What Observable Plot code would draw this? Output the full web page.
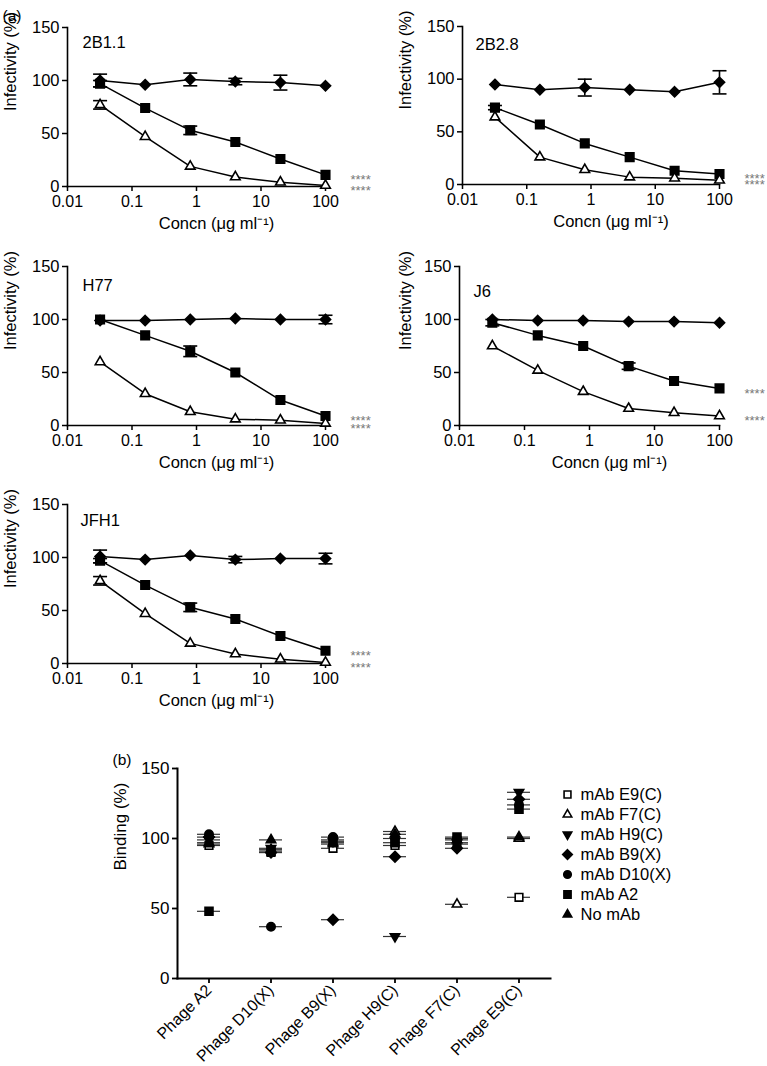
<!DOCTYPE html>
<html><head><meta charset="utf-8">
<script src="https://cdn.jsdelivr.net/npm/d3@7"></script>
<script src="https://cdn.jsdelivr.net/npm/@observablehq/plot@0.6"></script>
<style>
body{margin:0;background:#fff;}
#fig{position:relative;width:767px;height:1066px;background:#fff;font-family:"Liberation Sans",Arial,Helvetica,sans-serif;overflow:hidden;color:#000;}
#fig svg{position:absolute;background:transparent;overflow:visible;}
</style></head><body>
<div id="fig"></div>
<script>
// ---------- DATA: panel (a) ----------
const conc = [0.032, 0.16, 0.8, 4, 20, 100];
const xTickValues = [0.01, 0.1, 1, 10, 100];
const yTickValuesA = [0, 50, 100, 150];
const strains = ["2B1.1", "2B2.8", "H77", "J6", "JFH1"];
const asteriskText = "****";

const ctrl_2B11 = [100, 96, 101, 99, 98, 95];
const ctrlErr_2B11 = [6, 0, 6, 3, 7, 0];
const sq_2B11 = [97, 74, 53, 42, 26, 11];
const sqErr_2B11 = [3, 0, 4, 0, 0, 0];
const tri_2B11 = [77, 47, 19, 9, 4, 1];
const triErr_2B11 = [4, 0, 0, 0, 0, 0];

const ctrl_2B28 = [95, 90, 92, 90, 88, 97];
const ctrlErr_2B28 = [0, 0, 8, 0, 0, 11];
const sq_2B28 = [73, 57, 39, 26, 13, 10];
const sqErr_2B28 = [2, 0, 0, 0, 0, 0];
const tri_2B28 = [64, 26, 14, 7, 6, 4];
const triErr_2B28 = [0, 0, 0, 0, 0, 0];

const ctrl_H77 = [99, 99, 100, 101, 100, 100];
const ctrlErr_H77 = [0, 0, 0, 0, 0, 4];
const sq_H77 = [100, 85, 70, 50, 24, 9];
const sqErr_H77 = [0, 0, 5, 0, 0, 0];
const tri_H77 = [60, 30, 13, 6, 5, 2];
const triErr_H77 = [0, 0, 0, 0, 0, 0];

const ctrl_J6 = [100, 99, 99, 98, 98, 97];
const ctrlErr_J6 = [0, 0, 0, 0, 0, 0];
const sq_J6 = [97, 85, 75, 56, 42, 35];
const sqErr_J6 = [3, 0, 0, 3, 0, 0];
const tri_J6 = [75, 52, 32, 16, 12, 9];
const triErr_J6 = [0, 0, 0, 0, 0, 0];

const ctrl_JFH1 = [101, 98, 102, 98, 99, 99];
const ctrlErr_JFH1 = [6, 0, 0, 3, 0, 5];
const sq_JFH1 = [97, 74, 53, 42, 26, 12];
const sqErr_JFH1 = [2, 0, 4, 0, 0, 0];
const tri_JFH1 = [78, 47, 19, 9, 4, 1];
const triErr_JFH1 = [4, 0, 0, 0, 0, 0];

// ---------- DATA: panel (b) ----------
const phages = ["Phage A2", "Phage D10(X)", "Phage B9(X)", "Phage H9(C)", "Phage F7(C)", "Phage E9(C)"];
const mAbs = ["mAb E9(C)", "mAb F7(C)", "mAb H9(C)", "mAb B9(X)", "mAb D10(X)", "mAb A2", "No mAb"];
const yTickValuesB = [0, 50, 100, 150];
const bind_E9 = [95, 90, 93, 95, 96, 58];
const bind_F7 = [97, 92, 96, 105, 53, 100];
const bind_H9 = [99, 93, 98, 30, 97, 133];
const bind_B9 = [101, 90, 42, 87, 93, 128];
const bind_D10 = [103, 37, 101, 100, 100, 124];
const bind_A2 = [48, 91, 99, 97, 101, 121];
const bind_NoMAb = [96, 99, 97, 103, 99, 101];

// ---------- build ----------
const fig = document.getElementById("fig");
const FONT = '"Liberation Sans", Arial, Helvetica, sans-serif';

const capSymbol = {draw(ctx) { ctx.moveTo(-7, 0); ctx.lineTo(7, 0); }};
const downTriangle = {draw(ctx, size) {
  const s = Math.sqrt(size) * 0.68, t = s / 2, u = s * Math.sqrt(3) / 2;
  ctx.moveTo(0, s); ctx.lineTo(u, -t); ctx.lineTo(-u, -t); ctx.closePath();
}};
const upTriangle = {draw(ctx, size) {
  const s = Math.sqrt(size) * 0.68, t = s / 2, u = s * Math.sqrt(3) / 2;
  ctx.moveTo(0, -s); ctx.lineTo(u, t); ctx.lineTo(-u, t); ctx.closePath();
}};

const seriesStyle = {
  ctrl: {symbol: "diamond2", fill: "black", r: 4.6},
  sq: {symbol: "square", fill: "black", r: 4.8},
  tri: {symbol: "triangle2", fill: "white", r: 4.6}
};

const strainData = {
  "2B1.1": {ctrl: [ctrl_2B11, ctrlErr_2B11], sq: [sq_2B11, sqErr_2B11], tri: [tri_2B11, triErr_2B11]},
  "2B2.8": {ctrl: [ctrl_2B28, ctrlErr_2B28], sq: [sq_2B28, sqErr_2B28], tri: [tri_2B28, triErr_2B28]},
  "H77": {ctrl: [ctrl_H77, ctrlErr_H77], sq: [sq_H77, sqErr_H77], tri: [tri_H77, triErr_H77]},
  "J6": {ctrl: [ctrl_J6, ctrlErr_J6], sq: [sq_J6, sqErr_J6], tri: [tri_J6, triErr_J6]},
  "JFH1": {ctrl: [ctrl_JFH1, ctrlErr_JFH1], sq: [sq_JFH1, sqErr_JFH1], tri: [tri_JFH1, triErr_JFH1]}
};

const layoutA = [
  {left: 0, top: 0, width: 380, ml: 67, mr: 55, mt: 27, mb: 54, nameDx: 15, nameDy: 8.5, labX: 10, tag: "(a)"},
  {left: 380, top: 0, width: 387, ml: 82, mr: 48, mt: 26, mb: 56, nameDx: 13, nameDy: 11.5, labX: 405},
  {left: 0, top: 240, width: 380, ml: 67, mr: 55, mt: 26, mb: 55, nameDx: 15, nameDy: 13, labX: 10},
  {left: 380, top: 240, width: 387, ml: 79, mr: 48, mt: 26, mb: 55, nameDx: 14, nameDy: 19, labX: 405},
  {left: 0, top: 480, width: 380, ml: 67, mr: 55, mt: 24, mb: 57, nameDx: 13, nameDy: 10, labX: 10}
];

strains.forEach((name, k) => {
  const L = layoutA[k];
  const d = strainData[name];
  const rows = [];
  for (const key of ["ctrl", "sq", "tri"]) {
    const [vals, errs] = d[key];
    conc.forEach((c, i) => rows.push({series: key, x: c, y: vals[i], e: errs[i], last: i === conc.length - 1}));
  }
  const errRows = rows.filter(r => r.e > 0);
  const capRows = errRows.flatMap(r => [{x: r.x, y: r.y - r.e}, {x: r.x, y: r.y + r.e}]);
  const starRows = rows.filter(r => r.last && r.series !== "ctrl");
  const dotMarks = ["ctrl", "sq", "tri"].map(key => Plot.dot(rows.filter(r => r.series === key), {
    x: "x", y: "y", symbol: seriesStyle[key].symbol, r: seriesStyle[key].r,
    fill: seriesStyle[key].fill, stroke: "black", strokeWidth: 1.6
  }));
  const extra = L.tag ? [Plot.text([L.tag], {frameAnchor: "top-left", dx: 2 - L.ml, dy: 9 - L.mt, textAnchor: "start", fontSize: 15.5})] : [];
  const svg = Plot.plot({
    width: L.width, height: 240,
    marginLeft: L.ml, marginRight: L.mr, marginTop: L.mt, marginBottom: L.mb,
    style: {fontFamily: FONT, fontSize: "16px", background: "transparent", color: "black", overflow: "visible"},
    x: {type: "log", domain: [0.01, 100]},
    y: {domain: [0, 150]},
    marks: [
      Plot.axisY(yTickValuesA, {tickSize: 5, tickPadding: 3, fontSize: 16.5, label: null, strokeWidth: 1.5}),
      Plot.axisX(xTickValues, {tickSize: 5, tickPadding: 4, fontSize: 16, label: null, strokeWidth: 1.5, tickFormat: v => String(v)}),
      Plot.frame({anchor: "left", strokeWidth: 1.6}),
      Plot.frame({anchor: "bottom", strokeWidth: 1.6}),
      Plot.line(rows, {x: "x", y: "y", z: "series", stroke: "black", strokeWidth: 1.5}),
      Plot.ruleX(errRows, {x: "x", y1: r => r.y - r.e, y2: r => r.y + r.e, stroke: "black", strokeWidth: 1.6}),
      Plot.dot(capRows, {x: "x", y: "y", symbol: capSymbol, fill: "none", stroke: "black", strokeWidth: 1.6}),
      ...dotMarks,
      Plot.text(starRows, {x: "x", y: "y", text: () => asteriskText, dx: 25, dy: 5, textAnchor: "start", fill: "#777", fontSize: 13, letterSpacing: 0.6}),
      Plot.text([name], {frameAnchor: "top-left", dx: L.nameDx, dy: L.nameDy, textAnchor: "start", fontSize: 16.5}),
      Plot.text(["Concn (\u03bcg ml\u207b\u00b9)"], {frameAnchor: "bottom", dx: 20, dy: 42, fontSize: 16.5}),
      Plot.text(["Infectivity (%)"], {frameAnchor: "left", rotate: -90, dx: L.labX - (L.left + L.ml), dy: 4, fontSize: 16.5}),
      ...extra
    ]
  });
  svg.style.left = L.left + "px";
  svg.style.top = L.top + "px";
  fig.appendChild(svg);
});

// ---------- panel (b) ----------
const mAbData = [bind_E9, bind_F7, bind_H9, bind_B9, bind_D10, bind_A2, bind_NoMAb];
const mAbStyle = [
  {symbol: "square", fill: "white", r: 4.3},
  {symbol: "triangle2", fill: "white", r: 4.5},
  {symbol: downTriangle, fill: "black", r: 4.5},
  {symbol: "diamond2", fill: "black", r: 4.8},
  {symbol: "circle", fill: "black", r: 4.2},
  {symbol: "square", fill: "black", r: 4.5},
  {symbol: upTriangle, fill: "black", r: 4.5}
];
const bRows = mAbs.flatMap((m, i) => phages.map((p, j) => ({mAb: m, idx: i, phage: p, v: mAbData[i][j]})));

const svgB = Plot.plot({
  width: 455, height: 326,
  marginLeft: 77, marginRight: 5, marginTop: 28, marginBottom: 88,
  style: {fontFamily: FONT, fontSize: "16px", background: "transparent", color: "black", overflow: "visible"},
  x: {type: "band", domain: phages, paddingInner: 0.63, paddingOuter: 0.295},
  y: {domain: [0, 150]},
  marks: [
    Plot.axisY(yTickValuesB, {tickSize: 5, tickPadding: 3, fontSize: 17, label: null, strokeWidth: 1.8}),
    Plot.axisX({tickSize: 5, tickPadding: 4, tickRotate: -45, fontSize: 16, label: null, strokeWidth: 1.8}),
    Plot.frame({anchor: "left", strokeWidth: 2}),
    Plot.frame({anchor: "bottom", strokeWidth: 2}),
    Plot.tickY(bRows, {x: "phage", y: "v", stroke: "#333", strokeWidth: 1.2}),
    ...mAbs.map((m, i) => Plot.dot(bRows.filter(r => r.idx === i), {
      x: "phage", y: "v", symbol: mAbStyle[i].symbol, r: mAbStyle[i].r,
      fill: mAbStyle[i].fill, stroke: "black", strokeWidth: 1.6
    })),
    Plot.text(["Binding (%)"], {frameAnchor: "left", rotate: -90, dx: -57, dy: -3, fontSize: 17}),
    Plot.text(["(b)"], {frameAnchor: "top-left", dx: -65, dy: -15, textAnchor: "start", fontSize: 15.5})
  ]
});
svgB.style.left = "100px";
svgB.style.top = "740px";
fig.appendChild(svgB);

// ---------- legend for (b) ----------
const svgL = Plot.plot({
  width: 227, height: 180,
  margin: 0,
  style: {fontFamily: FONT, fontSize: "16px", background: "transparent", color: "black", overflow: "visible"},
  y: {type: "point", domain: mAbs, range: [22, 165], axis: null},
  marks: [
    ...mAbs.map((m, i) => Plot.dot([m], {
      y: v => v, frameAnchor: "left", dx: 27, symbol: mAbStyle[i].symbol, r: mAbStyle[i].r * 0.9,
      fill: mAbStyle[i].fill, stroke: "black", strokeWidth: 1.6
    })),
    Plot.text(mAbs, {y: v => v, text: v => v, frameAnchor: "left", dx: 40, textAnchor: "start", fontSize: 16.5})
  ]
});
svgL.style.left = "540px";
svgL.style.top = "760px";
fig.appendChild(svgL);
</script>
</body></html>
